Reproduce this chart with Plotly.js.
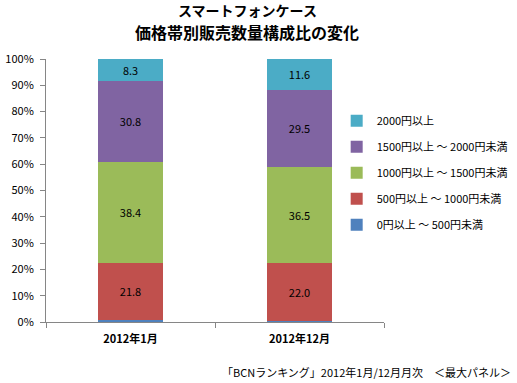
<!DOCTYPE html>
<html><head><meta charset="utf-8">
<script src="https://cdn.plot.ly/plotly-3.0.1.min.js"></script>
<style>body{margin:0;background:#fff}#c{width:517px;height:383px}</style>
</head><body><div id="c"></div>
<script>
const categories = ["2012年1月", "2012年12月"];
const seriesNames = ["0円以上 ～ 500円未満", "500円以上 ～ 1000円未満", "1000円以上 ～ 1500円未満", "1500円以上 ～ 2000円未満", "2000円以上"];
const s0 = [0.7, 0.4];
const s500 = [21.8, 22.0];
const s1000 = [38.4, 36.5];
const s1500 = [30.8, 29.5];
const s2000 = [8.3, 11.6];
const yTickVals = [0, 10, 20, 30, 40, 50, 60, 70, 80, 90, 100];
const yTickText = ["0%", "10%", "20%", "30%", "40%", "50%", "60%", "70%", "80%", "90%", "100%"];
const titleLine1 = "スマートフォンケース";
const titleLine2 = "価格帯別販売数量構成比の変化";
const sourceNote = "「BCNランキング」2012年1月/12月月次　＜最大パネル＞";
const colors = ["#4F81BD", "#C0504D", "#9BBB59", "#8064A2", "#4BACC6"];
const FONT = "Noto Sans CJK JP, sans-serif";

const allSeries = [s0, s500, s1000, s1500, s2000];
const traces = allSeries.map((vals, i) => ({
  type: "bar",
  name: seriesNames[i],
  x: categories,
  y: vals,
  legendgroup: "g" + i,
  legendrank: 1000 - i,
  marker: {color: colors[i], line: {width: 0}},
  text: i === 0 ? vals.map(() => "") : vals.map(v => v.toFixed(1)),
  textposition: i === 0 ? "none" : "inside",
  insidetextanchor: "middle",
  textangle: 0,
  textfont: {color: "#000", size: 11, family: FONT},
  hoverinfo: "x+y+name"
}));

const layout = {
  width: 517, height: 383,
  margin: {l: 46, r: 133, t: 59, b: 61, autoexpand: false},
  paper_bgcolor: "#fff", plot_bgcolor: "#fff",
  barmode: "stack",
  bargap: 0.615,
  font: {family: FONT, size: 11, color: "#000"},
  xaxis: {
    showline: true, linecolor: "#868686", linewidth: 1,
    ticks: "outside", tickson: "boundaries", ticklen: 5, tickcolor: "#868686",
    ticklabelstandoff: 7,
    tickfont: {size: 11, family: FONT, color: "#000", weight: "bold"},
    showgrid: false, fixedrange: true
  },
  yaxis: {
    range: [0, 100], tickvals: yTickVals, ticktext: yTickText,
    showline: true, linecolor: "#868686", linewidth: 1,
    ticks: "outside", ticklen: 5, tickcolor: "#868686",
    ticklabelstandoff: 4,
    tickfont: {size: 11, family: FONT, color: "#000"},
    showgrid: false, zeroline: false, fixedrange: true
  },
  legend: {
    x: 0.86, xanchor: "left", y: 0.82, yanchor: "top",
    traceorder: "grouped",
    font: {size: 11, family: FONT, color: "#000"},
    tracegroupgap: 7, itemwidth: 30, bgcolor: "rgba(0,0,0,0)"
  },
  annotations: [
    {text: titleLine1, xref: "paper", yref: "paper", x: (247 - 46) / 338, y: (322 - 10.5) / 263,
     xanchor: "center", yanchor: "middle", showarrow: false,
     font: {size: 14, family: FONT, color: "#000", weight: "bold"}},
    {text: titleLine2, xref: "paper", yref: "paper", x: (247 - 46) / 338, y: (322 - 32.5) / 263,
     xanchor: "center", yanchor: "middle", showarrow: false,
     font: {size: 16, family: FONT, color: "#000", weight: "bold"}},
    {text: sourceNote, xref: "paper", yref: "paper", x: (513 - 46) / 338, y: (322 - 372) / 263,
     xanchor: "right", yanchor: "middle", showarrow: false,
     font: {size: 11, family: FONT, color: "#000"}}
  ],
  showlegend: true
};
Plotly.newPlot("c", traces, layout, {displayModeBar: false, staticPlot: true});
</script></body></html>
